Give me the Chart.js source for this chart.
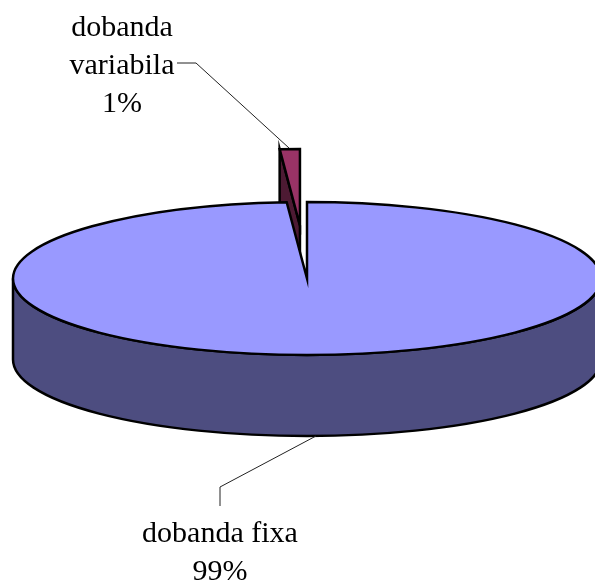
<!DOCTYPE html>
<html>
<head>
<meta charset="utf-8">
<style>
    html, body { margin: 0; padding: 0; background: #fff; }
    canvas { display: block; }
</style>
<script src="https://cdn.jsdelivr.net/npm/chart.js@4/dist/chart.umd.min.js"></script>
</head>
<body>
<canvas id="chart" width="595" height="580"></canvas>
<script>
const categories = ['dobanda fixa', 'dobanda variabila'];
const values = [98.9, 1.1];
const topColors = ['#9999ff', '#993366'];
const wallColors = ['#4d4d80', '#4d1a33'];
const explode = [0, 204];

const FLATTEN = 76.5 / 294;
const DEPTH = 81;

// pie is laid out by Chart.js, this only squashes it and adds the side walls
const pie3d = {
    id: 'pie3d',
    beforeDatasetDraw(chart, args) {
        const ctx = chart.ctx;
        const arcs = args.meta.data;

        const place = (arc) => {
            const mid = (arc.startAngle + arc.endAngle) / 2;
            const off = arc.options.offset || 0;
            return {
                x: arc.x + Math.cos(mid) * off,
                y: arc.y + Math.sin(mid) * off * FLATTEN,
                rx: arc.outerRadius,
                ry: arc.outerRadius * FLATTEN
            };
        };

        const paint = (fill) => {
            ctx.fillStyle = fill;
            ctx.strokeStyle = '#000';
            ctx.lineWidth = 2.5;
            ctx.lineJoin = 'miter';
            ctx.fill();
            ctx.stroke();
        };

        const topFace = (arc, fill) => {
            const p = place(arc);
            ctx.beginPath();
            ctx.moveTo(p.x, p.y);
            ctx.ellipse(p.x, p.y, p.rx, p.ry, 0, arc.startAngle, arc.endAngle);
            ctx.closePath();
            paint(fill);
        };

        ctx.save();

        // small slice first, the big one covers its lower part
        const small = arcs[1];
        const s = place(small);
        const ex = s.x + Math.cos(small.startAngle) * s.rx;
        const ey = s.y + Math.sin(small.startAngle) * s.ry;
        ctx.beginPath();
        ctx.moveTo(s.x, s.y);
        ctx.lineTo(ex, ey);
        ctx.lineTo(ex, ey + DEPTH);
        ctx.lineTo(s.x, s.y + DEPTH);
        ctx.closePath();
        paint(wallColors[1]);
        topFace(small, topColors[1]);

        // front wall of the big slice
        const big = arcs[0];
        const b = place(big);
        ctx.beginPath();
        ctx.ellipse(b.x, b.y, b.rx, b.ry, 0, 0, Math.PI);
        ctx.lineTo(b.x - b.rx, b.y + DEPTH);
        ctx.ellipse(b.x, b.y + DEPTH, b.rx, b.ry, 0, Math.PI, 0, true);
        ctx.closePath();
        paint(wallColors[0]);
        topFace(big, topColors[0]);

        ctx.restore();
        return false;
    },
    afterDatasetsDraw(chart) {
        const ctx = chart.ctx;
        ctx.save();

        ctx.strokeStyle = '#222';
        ctx.lineWidth = 1;
        ctx.beginPath();
        ctx.moveTo(177, 63);
        ctx.lineTo(196, 63);
        ctx.lineTo(289, 148);
        ctx.moveTo(316, 436);
        ctx.lineTo(220, 487);
        ctx.lineTo(220, 506);
        ctx.stroke();

        ctx.fillStyle = '#000';
        ctx.font = '30px "Liberation Serif"';
        ctx.textAlign = 'center';
        ctx.textBaseline = 'alphabetic';
        const total = values.reduce((a, v) => a + v, 0);
        const pct = values.map((v) => Math.round(v / total * 100) + '%');
        const words = categories[1].split(' ');
        ctx.fillText(words[0], 122, 36);
        ctx.fillText(words[1], 122, 74);
        ctx.fillText(pct[1], 122, 112);
        ctx.fillText(categories[0], 220, 542);
        ctx.fillText(pct[0], 220, 580);

        ctx.restore();
    }
};

new Chart(document.getElementById('chart').getContext('2d'), {
    type: 'pie',
    data: {
        labels: categories,
        datasets: [{
            data: values,
            backgroundColor: topColors,
            offset: explode,
            borderWidth: 0
        }]
    },
    plugins: [pie3d],
    options: {
        responsive: false,
        animation: false,
        radius: 294,
        layout: { padding: { left: 19, bottom: 23 } },
        plugins: {
            legend: { display: false },
            tooltip: { enabled: false }
        }
    }
});
</script>
</body>
</html>
